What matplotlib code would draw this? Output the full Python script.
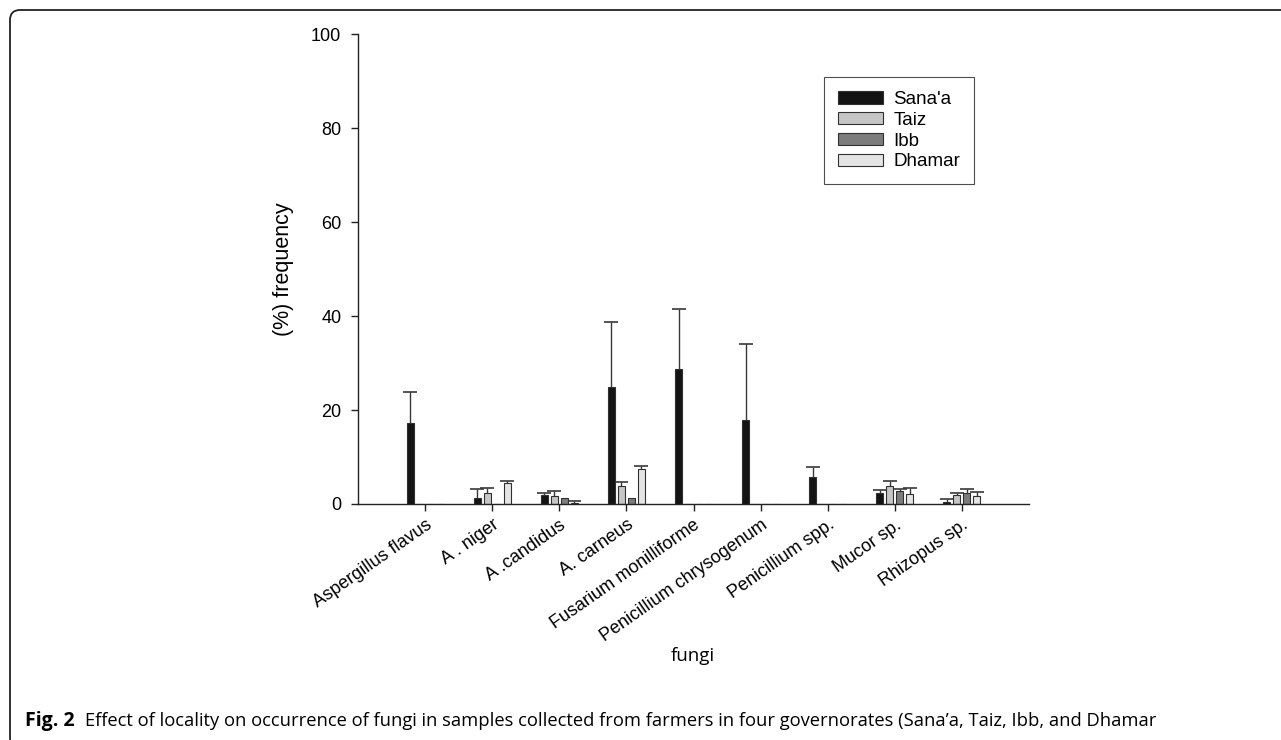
import matplotlib
matplotlib.use('Agg')
import matplotlib.pyplot as plt
import numpy as np
from matplotlib.patches import FancyBboxPatch
from matplotlib.transforms import IdentityTransform

# Data
fungi = ['Aspergillus flavus', 'A . niger', 'A .candidus', 'A. carneus',
         'Fusarium monilliforme', 'Penicillium chrysogenum', 'Penicillium spp.',
         'Mucor sp.', 'Rhizopus sp.']
regions = ["Sana'a", 'Taiz', 'Ibb', 'Dhamar']

sanaa = [17.2, 1.2, 2.0, 24.9, 28.8, 17.9, 5.7, 2.3, 0.4]
taiz = [0, 2.4, 1.8, 3.8, 0, 0, 0, 3.8, 1.9]
ibb = [0, 0, 1.3, 1.3, 0, 0, 0, 2.7, 2.3]
dhamar = [0, 4.4, 0.3, 7.4, 0, 0, 0, 2.2, 1.6]

sanaa_err = [6.6, 2.0, 0.4, 13.9, 12.6, 16.1, 2.2, 0.7, 0.6]
taiz_err = [0, 0.9, 1.0, 0.9, 0, 0, 0, 1.2, 0.5]
ibb_err = [0, 0, 0, 0, 0, 0, 0, 0.5, 0.8]
dhamar_err = [0, 0.6, 0.4, 0.7, 0, 0, 0, 1.1, 1.0]

colors = ['#141414', '#c6c6c6', '#7c7c7c', '#e4e4e4']

fig = plt.figure(figsize=(12.81, 7.40), dpi=100)
ax = fig.add_axes([358 / 1281, 1 - 504 / 740, 671 / 1281, 470 / 740])

x = np.arange(1, len(fungi) + 1)
step = 0.149
width = 0.106
series = [sanaa, taiz, ibb, dhamar]
errs = [sanaa_err, taiz_err, ibb_err, dhamar_err]

for i, (vals, err, col, name) in enumerate(zip(series, errs, colors, regions)):
    pos = x + (i - 1.5) * step
    ax.bar(pos, vals, width=width, color=col, edgecolor='#303030',
           linewidth=0.8, label=name, zorder=2)
    vals = np.array(vals)
    err = np.array(err)
    m = err > 0
    eb = ax.errorbar(pos[m], vals[m], yerr=[np.zeros(m.sum()), err[m]], fmt='none',
                     ecolor='#383838', elinewidth=1.0, capsize=5, capthick=1.2,
                     zorder=1)
    # only the upper cap, like the original
    eb[1][0].set_visible(False)

ax.set_xlim(0, 10)
ax.set_ylim(0, 100)
ax.set_yticks([0, 20, 40, 60, 80, 100])
ax.set_xticks(x)
ax.set_xticklabels(fungi, rotation=35, ha='right', rotation_mode='anchor',
                   fontsize=13, family='Liberation Sans')
for lab in ax.get_yticklabels():
    lab.set_family('Liberation Sans')
    lab.set_fontsize(13)
ax.tick_params(direction='out', length=5, width=1, color='#222222')
ax.tick_params(axis='y', pad=7)
ax.tick_params(axis='x', pad=4)
ax.spines['top'].set_visible(False)
ax.spines['right'].set_visible(False)
for s in ['left', 'bottom']:
    ax.spines[s].set_linewidth(1.0)
    ax.spines[s].set_color('#222222')

ax.set_ylabel('(%) frequency', fontsize=15.5, family='Liberation Sans', labelpad=12)

leg = ax.legend(loc='upper left', bbox_to_anchor=(0.6945, 0.9085), borderaxespad=0,
                frameon=True, fancybox=False, prop={'family': 'Liberation Sans', 'size': 13.5},
                handlelength=2.4, handleheight=0.64, labelspacing=0.2,
                borderpad=0.75, handletextpad=0.55)
leg.get_frame().set_edgecolor('#222222')
leg.get_frame().set_linewidth(0.8)

fig.text(693 / 1281, 1 - 656 / 740, 'fungi', ha='center', va='center',
         fontsize=13.5, family='Open Sans')

fig.text(25 / 1281, 1 - 721 / 740, 'Fig. 2', ha='left', va='center',
         fontsize=14, family='Open Sans', weight='bold')
fig.text(85 / 1281, 1 - 721 / 740,
         'Effect of locality on occurrence of fungi in samples collected from farmers '
         'in four governorates (Sana\u2019a, Taiz, Ibb, and Dhamar',
         ha='left', va='center', fontsize=13.2, family='Open Sans')

frame = FancyBboxPatch((10, -8), 1300, 738, boxstyle='round,pad=0,rounding_size=10',
                       transform=IdentityTransform(), fill=False,
                       edgecolor='#222222', linewidth=1.3)
fig.patches.append(frame)

fig.savefig('out.png', dpi=100)
